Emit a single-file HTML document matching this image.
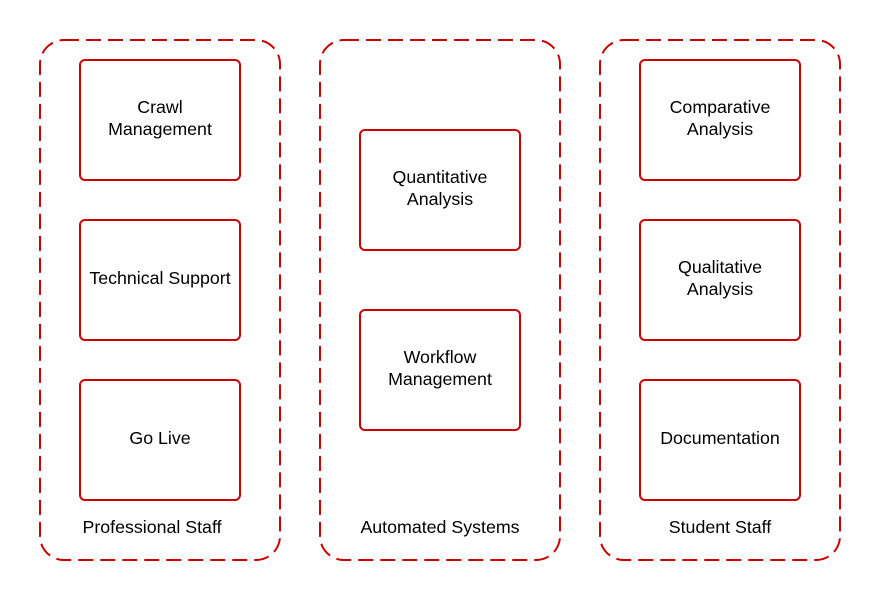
<!DOCTYPE html>
<html><head><meta charset="utf-8"><style>
html,body{margin:0;padding:0;background:#fff;}
svg{display:block;}
text{font-family:"Liberation Sans",Arial,sans-serif;font-size:17.8px;fill:#000;text-anchor:middle;}
</style></head><body>
<svg width="880" height="600" viewBox="0 0 880 600">
<g fill="none" stroke="#cc0000" stroke-width="2">
<rect x="40" y="40" width="240" height="520" rx="24" stroke-dasharray="15 7"/>
<rect x="320" y="40" width="240" height="520" rx="24" stroke-dasharray="15 7"/>
<rect x="600" y="40" width="240" height="520" rx="24" stroke-dasharray="15 7"/>
<rect x="80" y="60" width="160" height="120" rx="5"/>
<rect x="80" y="220" width="160" height="120" rx="5"/>
<rect x="80" y="380" width="160" height="120" rx="5"/>
<rect x="360" y="130" width="160" height="120" rx="5"/>
<rect x="360" y="310" width="160" height="120" rx="5"/>
<rect x="640" y="60" width="160" height="120" rx="5"/>
<rect x="640" y="220" width="160" height="120" rx="5"/>
<rect x="640" y="380" width="160" height="120" rx="5"/>
</g>
<text x="160" y="113">Crawl</text><text x="160" y="135">Management</text>
<text x="160" y="284">Technical Support</text>
<text x="160" y="444">Go Live</text>
<text x="440" y="183">Quantitative</text><text x="440" y="205">Analysis</text>
<text x="440" y="363">Workflow</text><text x="440" y="385">Management</text>
<text x="720" y="113">Comparative</text><text x="720" y="135">Analysis</text>
<text x="720" y="273">Qualitative</text><text x="720" y="295">Analysis</text>
<text x="720" y="444">Documentation</text>
<text x="152" y="533">Professional Staff</text>
<text x="440" y="533">Automated Systems</text>
<text x="720" y="533">Student Staff</text>
</svg>
</body></html>
